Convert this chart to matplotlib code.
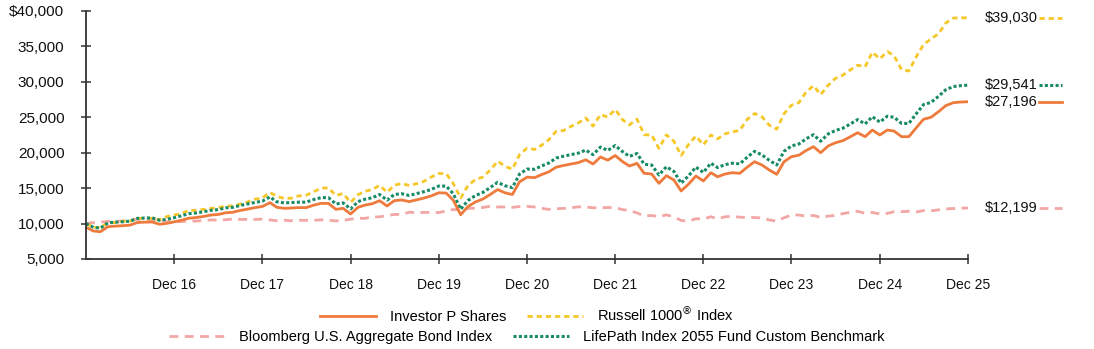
import numpy as np
import pandas as pd
import matplotlib
matplotlib.use('Agg')
import matplotlib.pyplot as plt
import matplotlib.transforms as mtransforms
from matplotlib.ticker import FuncFormatter

plt.rcParams['font.family'] = ['Liberation Sans', 'DejaVu Sans']

# monthly values, Dec 2015 .. Dec 2025
months = pd.date_range('2015-12-31', periods=121, freq='ME')

investor_p = [
    9470,
    8950, 8850, 9560, 9640, 9700, 9780, 10150, 10200, 10220, 9900, 10030, 10250,
    10480, 10750, 10850, 11000, 11200, 11280, 11520, 11600, 11850, 12050, 12250, 12420,
    12950, 12300, 12150, 12200, 12250, 12250, 12600, 12850, 12850, 12010, 12150, 11350,
    12300, 12600, 12800, 13230, 12480, 13230, 13330, 13100, 13350, 13600, 13900, 14350,
    14300, 13300, 11250, 12400, 13050, 13450, 14100, 14800, 14350, 14100, 15900, 16550,
    16480, 16900, 17300, 17950, 18200, 18400, 18600, 19000, 18400, 19400, 18950, 19600,
    18730, 18120, 18500, 17090, 16990, 15680, 16760, 16150, 14600, 15580, 16710, 16010,
    17180, 16610, 16990, 17180, 17090, 17940, 18730, 18260, 17560, 16950, 18730, 19440,
    19650, 20300, 20850, 20000, 20950, 21400, 21700, 22260, 22820, 22260, 23200, 22500,
    23200, 23060, 22260, 22260, 23530, 24720, 25000, 25790, 26640, 27060, 27150, 27196,
]

russell_1000 = [
    10000,
    9460, 9445, 10105, 10155, 10330, 10350, 10735, 10745, 10745, 10530, 10990, 11205,
    11420, 11865, 11865, 11995, 12140, 12225, 12470, 12495, 12755, 13050, 13440, 13635,
    14385, 13850, 13535, 13575, 13915, 14000, 14490, 14985, 15045, 13960, 14240, 12983,
    14075, 14555, 14800, 15395, 14410, 15420, 15650, 15370, 15630, 15960, 16565, 17064,
    17060, 15660, 13590, 15385, 16200, 16555, 17530, 18795, 18100, 17665, 19750, 20640,
    20455, 21030, 21830, 23010, 23125, 23700, 24200, 24900, 23755, 25395, 25015, 26099,
    24640, 23925, 24740, 22540, 22495, 20605, 22520, 21620, 19610, 21180, 22345, 21106,
    22500, 21960, 22665, 22935, 23140, 24690, 25530, 25070, 23890, 23320, 25490, 26706,
    27080, 28540, 29455, 28190, 29515, 30490, 30945, 31690, 32355, 32130, 34185, 33252,
    34290, 33675, 31720, 31530, 33550, 35260, 36070, 36790, 38300, 39000, 39050, 39030,
]

bloomberg_agg = [
    10000,
    10138, 10210, 10304, 10343, 10346, 10532, 10598, 10586, 10580, 10500, 10251, 10265,
    10286, 10355, 10350, 10430, 10509, 10499, 10544, 10639, 10588, 10594, 10580, 10628,
    10506, 10406, 10473, 10395, 10469, 10457, 10459, 10526, 10459, 10376, 10438, 10629,
    10742, 10736, 10942, 10945, 11140, 11280, 11305, 11598, 11537, 11572, 11566, 11556,
    11778, 11990, 11919, 12131, 12188, 12265, 12448, 12347, 12341, 12285, 12405, 12424,
    12335, 12157, 12005, 12100, 12140, 12225, 12362, 12339, 12232, 12228, 12265, 12233,
    11970, 11836, 11507, 11071, 11142, 10967, 11235, 10917, 10445, 10309, 10689, 10641,
    10969, 10685, 10956, 11023, 10903, 10864, 10856, 10787, 10513, 10347, 10816, 11230,
    11200, 11042, 11144, 10862, 11047, 11152, 11413, 11577, 11732, 11441, 11562, 11370,
    11430, 11681, 11686, 11732, 11648, 11827, 11796, 11937, 12067, 12120, 12180, 12199,
]

custom_bm = [
    10000,
    9460, 9355, 10105, 10190, 10255, 10340, 10730, 10780, 10800, 10465, 10600, 10835,
    11110, 11395, 11500, 11660, 11870, 11955, 12210, 12295, 12560, 12775, 12985, 13165,
    13765, 13075, 12915, 12970, 13020, 13020, 13395, 13660, 13660, 12765, 12915, 12065,
    13110, 13430, 13645, 14105, 13305, 14105, 14210, 13965, 14230, 14500, 14815, 15295,
    15285, 14220, 12025, 13255, 13950, 14380, 15075, 15820, 15340, 15075, 16995, 17690,
    17665, 18115, 18545, 19240, 19510, 19725, 19940, 20370, 19725, 20795, 20315, 21010,
    20135, 19480, 19890, 18370, 18265, 16855, 18015, 17360, 15695, 16750, 17965, 17210,
    18520, 17905, 18315, 18520, 18425, 19340, 20190, 19685, 18930, 18270, 20190, 20955,
    21240, 21945, 22540, 21620, 22645, 23135, 23460, 24065, 24670, 24065, 25080, 24320,
    25150, 25000, 24130, 24130, 25505, 26795, 27100, 27955, 28880, 29335, 29460, 29541,
]

tick_years = list(range(2016, 2026))
tick_labels = ['Dec %02d' % (y % 100) for y in tick_years]

c_orange = '#EE7A3C'
c_yellow = '#F6C728'
c_pink = '#F2A7A5'
c_green = '#178A67'
d_yellow = (1.9, 1.4)
d_pink = (3.2, 2.3)
d_green = (1.0, 0.75)

fig = plt.figure(figsize=(10.94, 3.49), dpi=100)
ax = fig.add_axes([0.0786, 0.2579, 0.8062, 0.7106])

l_bond, = ax.plot(months, bloomberg_agg, color=c_pink, lw=2, dashes=d_pink,
                  label='Bloomberg U.S. Aggregate Bond Index')
l_rus, = ax.plot(months, russell_1000, color=c_yellow, lw=2, dashes=d_yellow,
                 label='Russell 1000$^{\u00ae}$ Index')
l_bm, = ax.plot(months, custom_bm, color=c_green, lw=2.2, dashes=d_green,
                label='LifePath Index 2055 Fund Custom Benchmark')
l_inv, = ax.plot(months, investor_p, color=c_orange, lw=2,
                 label='Investor P Shares')

ax.set_xlim(months[0], months[-1])
ax.set_ylim(5000, 40000)
ax.set_yticks(np.arange(5000, 40001, 5000))
ax.yaxis.set_major_formatter(FuncFormatter(
    lambda v, p: ('$%s' % format(int(v), ',')) if v == 40000 else format(int(v), ',')))
ax.set_xticks([pd.Timestamp('%d-12-31' % y) for y in tick_years])
ax.set_xticklabels(tick_labels)

for s in ['top', 'right']:
    ax.spines[s].set_visible(False)
for s in ['left', 'bottom']:
    ax.spines[s].set_color('#333333')
    ax.spines[s].set_linewidth(1.3)
ax.tick_params(axis='both', direction='inout', length=7, width=1.1, color='#333333',
               labelcolor='#111111')
ax.tick_params(axis='y', pad=12, labelsize=11)
ax.tick_params(axis='x', pad=10.5, labelsize=10)

# end-of-series value labels on the right
trans = mtransforms.blended_transform_factory(ax.transAxes, ax.transData)
end_series = [
    (russell_1000, c_yellow, d_yellow, 2),
    (custom_bm, c_green, d_green, 2.2),
    (investor_p, c_orange, None, 2),
    (bloomberg_agg, c_pink, d_pink, 2),
]
for vals, col, dsh, lw in end_series:
    v = vals[-1]
    ax.text(1.019, v, '$' + format(v, ','), transform=trans, va='center', ha='left',
            fontsize=10.5, color='#111111')
    ln, = ax.plot([1.081, 1.107], [v, v], transform=trans, color=col, lw=lw, clip_on=False)
    if dsh:
        ln.set_dashes(dsh)

leg_kw = dict(loc='center', ncol=2, frameon=False, fontsize=10.5, handlelength=3.85,
              handletextpad=0.95, columnspacing=1.4)
leg1 = ax.legend(handles=[l_inv, l_rus], bbox_to_anchor=(0.5, -0.222), **leg_kw)
ax.add_artist(leg1)
ax.legend(handles=[l_bond, l_bm], bbox_to_anchor=(0.5, -0.315), **leg_kw)

fig.savefig('out.png', dpi=100)
